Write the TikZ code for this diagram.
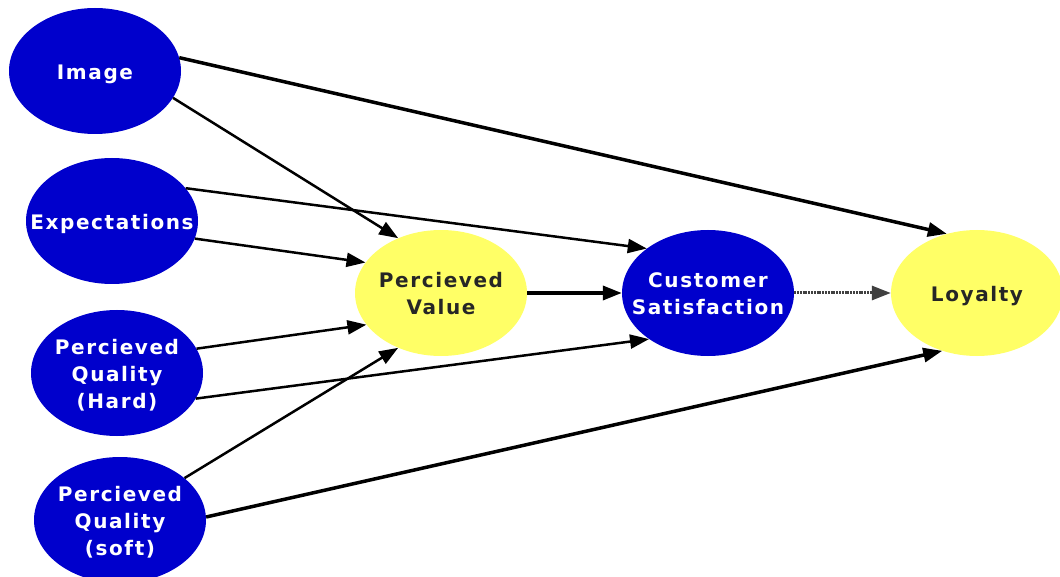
\documentclass[tikz,border=0pt]{standalone}
\usepackage{fontspec}
\setmainfont{DejaVu Sans}
\newfontfamily\bubfont[LetterSpace=8]{DejaVu Sans Bold}
\usetikzlibrary{arrows.meta,shapes.geometric}
\definecolor{bubblue}{RGB}{0,0,204}
\definecolor{bubyellow}{RGB}{255,255,102}
% centred stack of lines that does not widen the ellipse, set a little low
\newcommand\bubtext[1]{\makebox[0pt][c]{\raisebox{-3pt}[\height][\depth]{\begin{tabular}{@{}c@{}}#1\end{tabular}}}}

\begin{document}
\begin{tikzpicture}[x=1pt,y=-1pt,
  bubble/.style={ellipse, minimum width=172pt, minimum height=126pt,
    inner sep=0pt, font=\bubfont\fontsize{20}{27}\selectfont},
  driver/.style={bubble, fill=bubblue, text=white},
  outcome/.style={bubble, fill=bubyellow, text=black!85},
  link/.style={draw=black, line width=2.5pt, -{Triangle[length=19pt,width=14pt]}},
  strong/.style={link, line width=3.5pt},
  grainy/.style={link, line width=3pt, draw=black!75, dash pattern=on 2pt off 0.8pt}
]
\clip (0,0) rectangle (1060,577);
\fill[white] (0,0) rectangle (1060,577);

% drivers
\node[driver] (img) at (95,71)  {\bubtext{Image}};
\node[driver] (exp) at (112,221) {\bubtext{Expectations}};
\node[driver] (pqh) at (117,373) {\bubtext{Percieved\\Quality\\(Hard)}};
\node[driver] (pqs) at (120,520) {\bubtext{Percieved\\Quality\\(soft)}};

% value, satisfaction, loyalty
\node[outcome] (pv)  at (441,293) {\bubtext{Percieved\\Value}};
\node[driver]  (cs)  at (708,293) {\bubtext{Customer\\Satisfaction}};
\node[outcome] (loy) at (977,293) {\bubtext{Loyalty}};

% paths
\draw[strong] (img.9)   -- (loy.117);
\draw[link]   (img.-19) -- (pv.128);
\draw[link]   (exp.24)  -- (cs.144);
\draw[link]   (exp.-12) -- (pv.158);
\draw[link]   (pqh.17)  -- (pv.-157);
\draw[link]   (pqh.-18) -- (cs.-142);
\draw[link]   (pqs.33)  -- (pv.-128);
\draw[strong] (pqs.2)   -- (loy.-121);
\draw[strong] (pv.east) -- (cs.west);
\draw[grainy] (cs.east) -- (loy.west);
\end{tikzpicture}
\end{document}
